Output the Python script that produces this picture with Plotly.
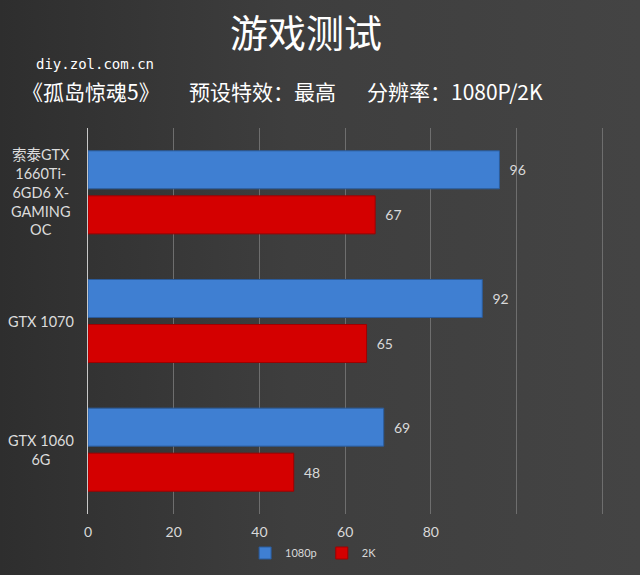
import base64
import plotly.graph_objects as go

categories = ["索泰GTX 1660Ti-6GD6 X-GAMING OC", "GTX 1070", "GTX 1060 6G"]
category_labels = ["索泰GTX<br>1660Ti-<br>6GD6 X-<br>GAMING<br>OC", "GTX 1070", "GTX 1060<br>6G"]
series_names = ["1080p", "2K"]
values_1080p = [96, 92, 69]
values_2k = [67, 65, 48]
tick_values = [0, 20, 40, 60, 80, 100, 120]
tick_labels = ["0", "20", "40", "60", "80", "", ""]

title_text = "游戏测试"
source_text = "diy.zol.com.cn"
subtitle_parts = ["《孤岛惊魂5》", "预设特效：最高", "分辨率：1080P/2K"]

W, H = 640, 575
ML, MR, MT, MB = 88, 9, 128, 61

svg = f'''<svg xmlns="http://www.w3.org/2000/svg" width="{W}" height="{H}">
<defs><linearGradient id="g" x1="0" y1="0" x2="1" y2="0">
<stop offset="0" stop-color="#2e2e2e"/><stop offset="0.45" stop-color="#3e3e3e"/><stop offset="1" stop-color="#444444"/>
</linearGradient></defs>
<rect width="{W}" height="{H}" fill="url(#g)"/></svg>'''
bg_uri = "data:image/svg+xml;base64," + base64.b64encode(svg.encode()).decode()

fig = go.Figure()
fig.add_trace(go.Bar(
    y=categories, x=values_1080p, name=series_names[0], orientation="h",
    marker=dict(color="#3f7fd2", line=dict(color="#2b5c9c", width=1)),
    text=[f"  {v}" for v in values_1080p], textposition="outside",
    textfont=dict(color="#d9d9d9", size=14, family="Lato"), cliponaxis=False,
))
fig.add_trace(go.Bar(
    y=categories, x=values_2k, name=series_names[1], orientation="h",
    marker=dict(color="#d40000", line=dict(color="#a00000", width=1)),
    text=[f"  {v}" for v in values_2k], textposition="outside",
    textfont=dict(color="#d9d9d9", size=14, family="Lato"), cliponaxis=False,
))

annotations = [
    dict(text=title_text, x=306, y=30, showarrow=False,
         font=dict(size=38, color="white", family="Noto Sans CJK SC")),
    dict(text=source_text, x=34, y=64, showarrow=False, xanchor="left",
         font=dict(size=14, color="white", family="DejaVu Sans Mono")),
    dict(text=subtitle_parts[0], x=20, y=91, showarrow=False, xanchor="left",
         font=dict(size=21, color="white", family="Noto Sans CJK SC")),
    dict(text=subtitle_parts[1], x=187, y=91, showarrow=False, xanchor="left",
         font=dict(size=21, color="white", family="Noto Sans CJK SC")),
    dict(text=subtitle_parts[2], x=365, y=91, showarrow=False, xanchor="left",
         font=dict(size=21, color="white", family="Noto Sans CJK SC")),
]
pw, ph = W - ML - MR, H - MT - MB
for a in annotations:
    a["x"] = (a["x"] - ML) / pw
    a["y"] = 1 + (MT - a["y"]) / ph
    a["xref"] = "paper"
    a["yref"] = "paper"
    a["yanchor"] = "middle"
    a.setdefault("xanchor", "center")

for cat, lab in zip(categories, category_labels):
    annotations.append(dict(
        text=lab, x=(41 - ML) / pw, xref="paper", y=cat, yref="y",
        showarrow=False, xanchor="center", yanchor="middle", align="center",
        font=dict(size=14.5, color="#dcdcdc", family="Lato, Noto Sans CJK SC"),
    ))

fig.update_layout(
    width=W, height=H,
    margin=dict(l=ML, r=MR, t=MT, b=MB, autoexpand=False),
    paper_bgcolor="#3a3a3a", plot_bgcolor="rgba(0,0,0,0)",
    images=[dict(source=bg_uri, xref="paper", yref="paper", x=-ML / pw, y=1 + MT / ph,
                 sizex=W / pw, sizey=H / ph, sizing="stretch", layer="below",
                 xanchor="left", yanchor="top")],
    barmode="group", bargap=0.30, bargroupgap=0.156,
    showlegend=True,
    legend=dict(orientation="h", x=0.49, xref="container", xanchor="center",
                y=1 - 553 / H, yref="container", yanchor="middle",
                font=dict(size=11, color="#d9d9d9", family="Lato"),
                itemwidth=30, bgcolor="rgba(0,0,0,0)"),
    annotations=annotations,
    xaxis=dict(range=[0, 126.7], tickvals=tick_values, ticktext=tick_labels,
               showgrid=True, gridcolor="#6e6e6e", gridwidth=1, zeroline=False,
               tickfont=dict(size=14, color="#d9d9d9", family="Lato"),
               ticks="", ticklabelstandoff=8, fixedrange=True),
    yaxis=dict(autorange="reversed", showticklabels=False, showgrid=False,
               showline=True, linecolor="#c8c8c8", linewidth=1, ticks="", zeroline=False),
    font=dict(family="Lato, Noto Sans CJK SC"),
)

fig.write_html(
    "out.html",
    config={"displayModeBar": False},
    post_script="document.body.style.margin='0';document.body.style.overflow='hidden';"
                "document.body.style.background='#3a3a3a';",
)
